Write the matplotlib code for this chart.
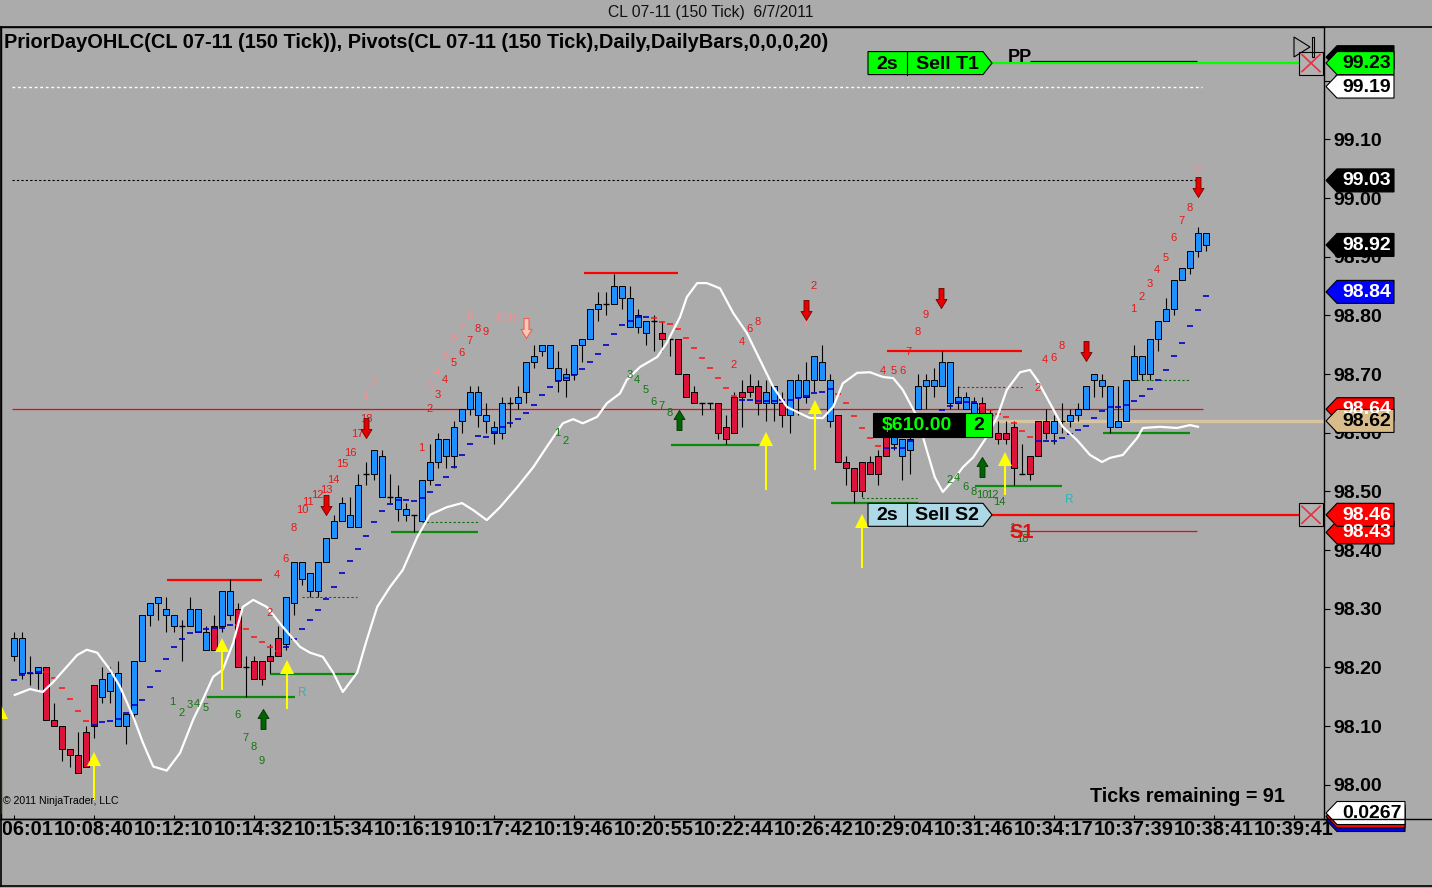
import numpy as np
import matplotlib
matplotlib.use("Agg")
import matplotlib.pyplot as plt
from matplotlib.patches import Polygon, Rectangle
from matplotlib.path import Path
from matplotlib.transforms import Bbox

plt.rcParams['font.family'] = ['Liberation Sans', 'DejaVu Sans']

# ---------------- data ----------------
opens = [98.22, 98.19, 98.19, 98.19, 98.20, 98.11, 98.10, 98.06, 98.05, 98.09,
         98.17, 98.15, 98.16, 98.10, 98.10, 98.12, 98.21, 98.29, 98.31, 98.29,
         98.27, 98.27, 98.27, 98.26, 98.23, 98.27, 98.27, 98.29, 98.30, 98.20,
         98.21, 98.21, 98.22, 98.25, 98.24, 98.31, 98.35, 98.33, 98.33, 98.38,
         98.42, 98.45, 98.44, 98.44, 98.53, 98.53, 98.49, 98.49, 98.47, 98.46,
         98.46, 98.45, 98.52, 98.55, 98.56, 98.56, 98.62, 98.64, 98.63, 98.62,
         98.60, 98.60, 98.65, 98.65, 98.67, 98.72, 98.74, 98.71, 98.69, 98.69,
         98.70, 98.75, 98.76, 98.81, 98.82, 98.82, 98.83, 98.78, 98.78, 98.77,
         98.79, 98.77, 98.76, 98.76, 98.70, 98.67, 98.65, 98.65, 98.65, 98.61,
         98.66, 98.67, 98.68, 98.68, 98.65, 98.65, 98.65, 98.63, 98.66, 98.66,
         98.69, 98.69, 98.62, 98.63, 98.55, 98.54, 98.55, 98.55, 98.56, 98.60,
         98.58, 98.56, 98.57, 98.64, 98.68, 98.68, 98.68, 98.65, 98.65, 98.64,
         98.63, 98.65, 98.63, 98.60, 98.60, 98.61, 98.53, 98.56, 98.62, 98.62,
         98.60, 98.62, 98.62, 98.63, 98.64, 98.69, 98.68, 98.61, 98.61, 98.62,
         98.69, 98.70, 98.70, 98.76, 98.79, 98.81, 98.86, 98.88, 98.91, 98.92]
closes = [98.25, 98.25, 98.19, 98.20, 98.11, 98.10, 98.06, 98.05, 98.02, 98.03,
          98.10, 98.18, 98.19, 98.19, 98.12, 98.21, 98.29, 98.31, 98.32, 98.30,
          98.29, 98.27, 98.30, 98.30, 98.26, 98.23, 98.33, 98.33, 98.20, 98.20,
          98.18, 98.18, 98.21, 98.22, 98.32, 98.38, 98.38, 98.36, 98.38, 98.42,
          98.45, 98.48, 98.46, 98.51, 98.53, 98.57, 98.56, 98.49, 98.49, 98.47,
          98.46, 98.52, 98.55, 98.59, 98.59, 98.61, 98.64, 98.67, 98.67, 98.63,
          98.61, 98.65, 98.65, 98.66, 98.72, 98.73, 98.75, 98.75, 98.71, 98.70,
          98.75, 98.76, 98.81, 98.82, 98.82, 98.85, 98.85, 98.83, 98.80, 98.79,
          98.79, 98.76, 98.76, 98.70, 98.66, 98.65, 98.65, 98.65, 98.60, 98.59,
          98.60, 98.66, 98.67, 98.65, 98.67, 98.68, 98.63, 98.69, 98.69, 98.69,
          98.73, 98.72, 98.69, 98.55, 98.54, 98.50, 98.50, 98.53, 98.53, 98.56,
          98.60, 98.59, 98.59, 98.68, 98.69, 98.69, 98.72, 98.72, 98.66, 98.66,
          98.65, 98.63, 98.63, 98.59, 98.59, 98.54, 98.53, 98.53, 98.56, 98.60,
          98.62, 98.62, 98.63, 98.64, 98.68, 98.70, 98.69, 98.68, 98.62, 98.69,
          98.73, 98.73, 98.76, 98.79, 98.81, 98.86, 98.88, 98.91, 98.94, 98.94]
highs = [98.26, 98.26, 98.22, 98.20, 98.20, 98.14, 98.10, 98.06, 98.09, 98.10,
         98.17, 98.20, 98.20, 98.21, 98.12, 98.21, 98.29, 98.31, 98.32, 98.32,
         98.29, 98.28, 98.32, 98.30, 98.27, 98.29, 98.33, 98.35, 98.31, 98.22,
         98.22, 98.21, 98.24, 98.27, 98.32, 98.38, 98.38, 98.36, 98.38, 98.42,
         98.46, 98.49, 98.49, 98.53, 98.55, 98.57, 98.57, 98.53, 98.51, 98.48,
         98.46, 98.52, 98.58, 98.60, 98.59, 98.62, 98.64, 98.68, 98.68, 98.65,
         98.62, 98.66, 98.66, 98.68, 98.72, 98.75, 98.75, 98.75, 98.74, 98.71,
         98.75, 98.76, 98.81, 98.84, 98.84, 98.87, 98.85, 98.85, 98.81, 98.79,
         98.80, 98.79, 98.76, 98.76, 98.70, 98.68, 98.65, 98.65, 98.65, 98.63,
         98.67, 98.69, 98.70, 98.69, 98.69, 98.68, 98.67, 98.69, 98.70, 98.72,
         98.73, 98.75, 98.70, 98.63, 98.56, 98.54, 98.55, 98.56, 98.57, 98.61,
         98.62, 98.59, 98.60, 98.70, 98.70, 98.71, 98.74, 98.72, 98.68, 98.67,
         98.66, 98.66, 98.64, 98.62, 98.62, 98.62, 98.58, 98.56, 98.62, 98.64,
         98.63, 98.65, 98.64, 98.65, 98.68, 98.70, 98.70, 98.68, 98.68, 98.69,
         98.75, 98.73, 98.76, 98.79, 98.83, 98.86, 98.88, 98.91, 98.95, 98.94]
lows = [98.21, 98.18, 98.17, 98.16, 98.11, 98.10, 98.04, 98.03, 98.02, 98.03,
        98.08, 98.14, 98.14, 98.10, 98.07, 98.11, 98.21, 98.27, 98.28, 98.26,
        98.26, 98.21, 98.27, 98.26, 98.23, 98.23, 98.26, 98.28, 98.20, 98.15,
        98.18, 98.17, 98.19, 98.22, 98.23, 98.29, 98.34, 98.32, 98.32, 98.38,
        98.42, 98.45, 98.44, 98.44, 98.51, 98.52, 98.49, 98.48, 98.45, 98.45,
        98.43, 98.45, 98.51, 98.54, 98.54, 98.54, 98.60, 98.63, 98.61, 98.60,
        98.58, 98.59, 98.61, 98.64, 98.65, 98.71, 98.73, 98.71, 98.67, 98.66,
        98.69, 98.72, 98.76, 98.79, 98.80, 98.82, 98.81, 98.78, 98.77, 98.75,
        98.74, 98.74, 98.73, 98.70, 98.66, 98.65, 98.63, 98.64, 98.59, 98.58,
        98.60, 98.61, 98.66, 98.63, 98.62, 98.62, 98.61, 98.60, 98.63, 98.65,
        98.67, 98.69, 98.61, 98.55, 98.51, 98.48, 98.49, 98.53, 98.51, 98.56,
        98.57, 98.52, 98.53, 98.64, 98.64, 98.66, 98.68, 98.64, 98.64, 98.64,
        98.62, 98.62, 98.61, 98.58, 98.58, 98.51, 98.53, 98.52, 98.56, 98.59,
        98.58, 98.60, 98.61, 98.62, 98.64, 98.66, 98.66, 98.60, 98.61, 98.62,
        98.69, 98.69, 98.69, 98.74, 98.79, 98.80, 98.86, 98.87, 98.90, 98.91]

# trailing stop dashes (1 = long / blue below, -1 = short / red above)
stop_vals = [98.178, 98.187, 98.190, 98.192,
             98.192, 98.182, 98.165, 98.146, 98.126, 98.109,
             98.102, 98.106, 98.109, 98.112, 98.122, 98.136, 98.144, 98.167, 98.194, 98.214,
             98.235, 98.248, 98.259, 98.260, 98.265, 98.267, 98.267, 98.272,
             98.272, 98.265, 98.252, 98.243, 98.235, 98.228,
             98.235, 98.248, 98.265, 98.281, 98.298, 98.316, 98.337, 98.361, 98.381, 98.402,
             98.424, 98.448, 98.467, 98.479, 98.486, 98.486, 98.484, 98.489, 98.499, 98.511,
             98.524, 98.541, 98.562, 98.581, 98.594, 98.593, 98.601, 98.610, 98.617, 98.623,
             98.634, 98.647, 98.664, 98.678, 98.688, 98.693, 98.698, 98.709, 98.721, 98.734,
             98.750, 98.768, 98.784, 98.791, 98.797, 98.797,
             98.796, 98.789, 98.785, 98.777, 98.761, 98.744, 98.727, 98.710, 98.693, 98.676, 98.662,
             98.655, 98.655, 98.654, 98.654, 98.654, 98.655, 98.655, 98.659, 98.662, 98.667, 98.669, 98.674,
             98.666, 98.651, 98.628, 98.608, 98.591, 98.577,
             98.574, 98.574, 98.574, 98.586, 98.613, 98.621, 98.630, 98.639, 98.645, 98.652, 98.652, 98.652,
             98.645, 98.639, 98.632, 98.627, 98.617, 98.603, 98.593,
             98.586, 98.586, 98.586, 98.591, 98.598, 98.605, 98.612, 98.625, 98.637, 98.644, 98.644,
             98.647, 98.654, 98.662, 98.674, 98.689, 98.707, 98.731, 98.753, 98.782, 98.809, 98.833]
stop_side = ([1] * 4 + [-1] * 6 + [1] * 18 + [-1] * 6 + [1] * 46 + [-1] * 11 +
             [1] * 12 + [-1] * 6 + [1] * 12 + [-1] * 7 + [1] * 22)

# white oscillator line (bar position, price)
white_k = [0.1, 2.0, 3.6, 4.9, 6.6, 7.9, 9.1, 10.4, 12.0, 13.25,
           14.9, 16.1, 17.4, 19.1, 20.75, 22.4, 23.6, 24.9, 26.1, 27.4,
           28.6, 29.9, 31.6, 33.6, 35.75, 37.0, 38.6, 39.9, 41.1, 42.9,
           44.1, 45.4, 47.0, 48.6, 50.4, 52.0, 54.1, 56.0, 57.4, 59.1,
           60.75, 62.9, 64.9, 66.6, 68.6, 69.9, 71.1, 72.9, 74.1, 75.75,
           76.6, 78.25, 80.4, 81.6, 83.25, 84.1, 85.4, 86.6, 88.25, 89.9,
           91.6, 93.25, 94.9, 96.6, 98.25, 99.5, 101.1, 102.4, 103.6, 105.4,
           107.0, 108.6, 109.9, 111.1, 112.9, 114.1, 115.1, 116.1, 117.4, 118.6,
           119.9, 121.6, 122.9, 124.1, 125.75, 127.0, 127.9, 129.5, 131.1, 132.9,
           134.5, 136.0, 137.0, 138.6, 140.4, 141.1, 143.25, 145.4, 147.0, 148.0]
white_p = [98.153, 98.163, 98.158, 98.175, 98.201, 98.221, 98.230, 98.225, 98.196, 98.167,
           98.116, 98.072, 98.031, 98.024, 98.054, 98.111, 98.145, 98.184, 98.196, 98.242,
           98.303, 98.315, 98.303, 98.269, 98.235, 98.225, 98.218, 98.191, 98.158, 98.191,
           98.247, 98.303, 98.337, 98.366, 98.422, 98.460, 98.473, 98.480, 98.468, 98.451,
           98.473, 98.507, 98.541, 98.576, 98.616, 98.623, 98.616, 98.627, 98.650, 98.667,
           98.690, 98.712, 98.729, 98.753, 98.797, 98.831, 98.855, 98.855, 98.846, 98.804,
           98.770, 98.724, 98.678, 98.644, 98.633, 98.625, 98.625, 98.644, 98.684, 98.702,
           98.703, 98.695, 98.693, 98.673, 98.627, 98.570, 98.524, 98.499, 98.519, 98.541,
           98.558, 98.593, 98.627, 98.673, 98.703, 98.707, 98.690, 98.650, 98.610, 98.587,
           98.562, 98.550, 98.557, 98.562, 98.591, 98.608, 98.610, 98.608, 98.613, 98.610]

# swing high (red) / low (green) segments: start bar, end bar, price
high_seg = [(19.1, 31.0, 98.349), (71.25, 83.0, 98.872), (109.1, 126.0, 98.739)]
low_seg = [(24.1, 35.1, 98.149), (32.0, 42.9, 98.189), (47.1, 58.0, 98.430),
           (82.1, 93.25, 98.579), (102.1, 113.0, 98.480), (120.1, 131.0, 98.509),
           (136.1, 147.0, 98.600)]
low_dash_seg = [(36.0, 42.9, 98.320), (51.0, 58.0, 98.448), (106.0, 112.9, 98.489),
                (139.9, 147.0, 98.690)]
high_dash_seg = [(118.0, 126.0, 98.678)]

# prior-day / pivot levels
prior_high = 99.19
prior_close = 99.03
prior_mid = 98.64
pp_level = 99.234
s1_level = 98.432
t1_level = 99.23
s2_level = 98.46
entry_level = 98.62

# signal arrows
yel_k = [-1.6, 10, 26, 34.1, 94, 100.1, 106, 123.9]
yel_tip = [98.136, 98.056, 98.250, 98.212, 98.601, 98.655, 98.461, 98.567]
yel_tail = [97.950, 97.974, 98.161, 98.129, 98.502, 98.536, 98.369, 98.494]
gup_k = [31.1, 83.1, 121.0]
gup_p = [98.112, 98.622, 98.541]
rdn_k = [39.0, 44.0, 99.0, 115.9, 134.0, 148.0]
rdn_p = [98.477, 98.608, 98.809, 98.830, 98.739, 99.019]
sdn_k = [64.0]
sdn_p = [98.779]

# count labels
red_k = [31.9, 32.9, 33.9, 34.9, 36.0, 36.75, 37.9, 39.0, 39.9, 41.0, 42.0, 42.9, 44.0,
         50.9, 52.0, 52.9, 53.9, 54.9, 55.9, 56.9, 57.9, 58.9,
         89.9, 91.0, 91.9, 92.9, 99.9,
         108.6, 109.9, 111.1, 111.75, 112.9, 113.9,
         127.9, 128.9, 129.9, 130.9,
         139.9, 141.0, 141.9, 142.9, 143.9, 144.9, 145.9, 146.9]
red_p = [98.293, 98.358, 98.385, 98.438, 98.469, 98.481, 98.494, 98.503, 98.520, 98.547, 98.566, 98.598, 98.624,
         98.574, 98.641, 98.665, 98.690, 98.719, 98.735, 98.757, 98.776, 98.772,
         98.716, 98.755, 98.777, 98.789, 98.850,
         98.705, 98.705, 98.705, 98.738, 98.772, 98.801,
         98.677, 98.724, 98.728, 98.748,
         98.810, 98.832, 98.854, 98.878, 98.898, 98.931, 98.961, 98.983]
red_t = ['2', '4', '6', '8', '10', '11', '12', '13', '14', '15', '16', '17', '18',
         '1', '2', '3', '4', '5', '6', '7', '8', '9',
         '2', '4', '6', '8', '2',
         '4', '5', '6', '7', '8', '9',
         '2', '4', '6', '8',
         '1', '2', '3', '4', '5', '6', '7', '8']
pink_k = [43.9, 44.9, 52.0, 52.9, 53.9, 54.9, 55.9, 56.9, 60.75, 62.25, 98.9, 147.9]
pink_p = [98.660, 98.684, 98.678, 98.704, 98.730, 98.762, 98.777, 98.798, 98.793, 98.793, 98.787, 99.048]
pink_t = ['1', '2', '3', '4', '5', '6', '7', '8', '10', '11', '1', '9']
green_k = [19.75, 20.9, 22.0, 22.9, 24.0, 27.9, 28.9, 29.9, 30.9,
           67.9, 68.9,
           76.9, 77.9, 78.9, 79.9, 80.9, 81.9,
           117.0, 117.9, 118.9, 119.9, 121.0, 122.25, 123.1,
           124.75, 126.0]
green_p = [98.141, 98.123, 98.136, 98.138, 98.130, 98.119, 98.080, 98.065, 98.041,
           98.600, 98.586,
           98.699, 98.690, 98.672, 98.653, 98.646, 98.634,
           98.520, 98.523, 98.508, 98.499, 98.494, 98.494, 98.482,
           98.438, 98.419]
green_t = ['1', '2', '3', '4', '5', '6', '7', '8', '9',
           '1', '2',
           '3', '4', '5', '6', '7', '8',
           '2', '4', '6', '8', '10', '12', '14',
           '1', '18']
rmark_k = [36.0, 131.9]
rmark_p = [98.156, 98.485]

ytick_vals = [98.00, 98.10, 98.20, 98.30, 98.40, 98.50, 98.60, 98.70, 98.80, 98.90, 99.00, 99.10, 99.20]
xtick_pos = [0, 10, 20, 30, 40, 50, 60, 70, 80, 90, 100, 110, 120, 130, 140, 150, 160]
xtick_lab = ['10:06:01', '10:08:40', '10:12:10', '10:14:32', '10:15:34', '10:16:19', '10:17:42',
             '10:19:46', '10:20:55', '10:22:44', '10:26:42', '10:29:04', '10:31:46', '10:34:17',
             '10:37:39', '10:38:41', '10:39:41']

# right-axis price tags: price, face, text colour, shown text
tags = [(99.24, 'black', 'white', ''), (99.23, '#00FF00', 'black', '99.23'), (99.19, 'white', 'black', '99.19'),
        (99.03, 'black', 'white', '99.03'), (98.92, 'black', 'white', '98.92'), (98.84, '#0000FF', 'white', '98.84'),
        (98.64, '#FF0000', 'white', '98.64'), (98.62, '#D8BC8C', 'black', '98.62'),
        (98.43, '#FF0000', 'white', '98.43'), (98.46, '#FF0000', 'white', '98.46')]

# ---------------- figure ----------------
FIG_W, FIG_H = 1432, 888
BG = '#ABABAB'
fig = plt.figure(figsize=(FIG_W / 100, FIG_H / 100), dpi=100, facecolor=BG)
AX_L, AX_R, AX_T, AX_B = 1, 1324, 27, 819
ax = fig.add_axes([AX_L / FIG_W, 1 - AX_B / FIG_H, (AX_R - AX_L) / FIG_W, (AX_B - AX_T) / FIG_H])
ax.set_facecolor(BG)
ax.set_xlim(-1.625, 163.75)
ax.set_ylim(97.9415, 99.2915)
for s in ax.spines.values():
    s.set_color('black')
    s.set_linewidth(1.0)

PPX = (99.2915 - 97.9415) / (AX_B - AX_T)  # price per pixel

k = np.arange(len(opens))
o = np.array(opens); c = np.array(closes); h = np.array(highs); l = np.array(lows)

# reference lines
ax.hlines(prior_high, -0.25, 148.5, colors='white', lw=1, linestyles=(0, (2, 2)), zorder=1)
ax.hlines(prior_close, -0.25, 148.3, colors='black', lw=0.8, linestyles=(0, (2, 2)), zorder=1)
ax.hlines(prior_mid, -0.25, 148.6, colors='#FF0000', lw=0.9, zorder=1)
ax.hlines(pp_level, 127.0, 147.9, colors='black', lw=0.9, zorder=1)
ax.hlines(s1_level, 124.5, 147.9, colors='#FF0000', lw=0.9, zorder=1)
ax.hlines(t1_level, 122.25, 160.6, colors='#00FF00', lw=1.6, zorder=1)
ax.hlines(s2_level, 122.25, 160.6, colors='#FF0000', lw=1.6, zorder=1)
ax.hlines(entry_level, 122.25, 163.75, colors='#D8C4A0', lw=2.4, zorder=1)

for a, b, p in high_seg:
    ax.hlines(p, a, b, colors='#FF0000', lw=1.6, zorder=2)
for a, b, p in low_seg:
    ax.hlines(p, a, b, colors='#0A8A0A', lw=1.6, zorder=2)
for a, b, p in low_dash_seg:
    ax.hlines(p, a, b, colors='#0A6A0A', lw=0.8, linestyles=(0, (2, 2)), zorder=2)
for a, b, p in high_dash_seg:
    ax.hlines(p, a, b, colors='#E00000', lw=0.8, linestyles=(0, (2, 2)), zorder=2)

# candles
ax.vlines(k, l, h, colors='black', lw=0.8, zorder=3)
body = c != o
up = (c > o)
dn = (c < o)
ax.bar(k[up], (c - o)[up], bottom=o[up], width=0.64, color='#1E90FF', edgecolor='black', lw=0.7, zorder=4)
ax.bar(k[dn], (o - c)[dn], bottom=c[dn], width=0.64, color='#DC143C', edgecolor='black', lw=0.7, zorder=4)
dj = ~body
ax.hlines(c[dj], k[dj] - 0.4, k[dj] + 0.4, colors='black', lw=1.0, zorder=4)

# trailing stop dashes
sv = np.array(stop_vals); sd = np.array(stop_side)
ax.hlines(sv[sd > 0], k[sd > 0] - 0.42, k[sd > 0] + 0.42, colors='#0000CC', lw=1.2, zorder=5)
ax.hlines(sv[sd < 0], k[sd < 0] - 0.42, k[sd < 0] + 0.42, colors='#FF1A1A', lw=1.2, zorder=5)

# white oscillator
ax.plot(white_k, white_p, color='white', lw=1.6, zorder=5, solid_joinstyle='round')

# arrows
dn_path = Path([(-2.5, 10), (2.5, 10), (2.5, -1), (5.5, -1), (0, -10), (-5.5, -1), (-2.5, -1), (-2.5, 10)],
               [Path.MOVETO] + [Path.LINETO] * 6 + [Path.CLOSEPOLY])
up_path = Path([(-2.5, -10), (2.5, -10), (2.5, 1), (5.5, 1), (0, 10), (-5.5, 1), (-2.5, 1), (-2.5, -10)],
               [Path.MOVETO] + [Path.LINETO] * 6 + [Path.CLOSEPOLY])
MS = 20 * 0.72
ax.plot(rdn_k, rdn_p, ls='none', marker=dn_path, ms=MS, mfc='#E80000', mec='#700000', mew=0.6, zorder=7)
ax.plot(sdn_k, sdn_p, ls='none', marker=dn_path, ms=MS, mfc='#F8C8B8', mec='#F06050', mew=0.8, zorder=7)
ax.plot(gup_k, gup_p, ls='none', marker=up_path, ms=MS, mfc='#006400', mec='#003000', mew=0.6, zorder=7)
for xk, tp, tl in zip(yel_k, yel_tip, yel_tail):
    head_c = tp - 7 * PPX
    ax.vlines(xk, tl, head_c, colors='#FFFF00', lw=1.5, zorder=7)
    ax.plot([xk], [head_c], ls='none', marker='^', ms=10.5, mfc='#FFFF00', mec='#FFFF00', mew=0, zorder=7)

# count labels
for xk, p, t in zip(red_k, red_p, red_t):
    ax.text(xk, p, t, color='#E81818', fontsize=8, ha='center', va='center', zorder=6)
for xk, p, t in zip(pink_k, pink_p, pink_t):
    ax.text(xk, p, t, color='#F49090', fontsize=8, ha='center', va='center', zorder=6)
for xk, p, t in zip(green_k, green_p, green_t):
    ax.text(xk, p, t, color='#117711', fontsize=8, ha='center', va='center', zorder=6)
for xk, p in zip(rmark_k, rmark_p):
    ax.text(xk, p, 'R', color='#3AB0B0', fontsize=8.5, ha='center', va='center', zorder=6)

# axes ticks
ax.yaxis.tick_right()
ax.set_yticks(ytick_vals)
ax.set_yticklabels(['%.2f' % v for v in ytick_vals], fontsize=14, fontweight='bold')
ax.tick_params(axis='y', direction='out', length=4.3, width=0.8, pad=2.6, colors='black')
ax.set_xticks(xtick_pos)
ax.set_xticklabels(xtick_lab, fontsize=14.4, fontweight='bold')
ax.tick_params(axis='x', direction='in', length=3, width=0.8, pad=0.5, colors='black')
first = ax.xaxis.get_major_ticks()[0].label1
first.set_clip_on(True)
first.set_clip_box(Bbox.from_extents(3, 0, FIG_W, FIG_H))

# ---------------- overlay widgets (pixel space) ----------------
ov = fig.add_axes([0, 0, 1, 1], zorder=10)
ov.set_xlim(0, FIG_W)
ov.set_ylim(FIG_H, 0)
ov.axis('off')
ov.patch.set_alpha(0)


def py(price):
    return FIG_H - ax.transData.transform((0, price))[1]


# frame lines
ov.plot([0, FIG_W], [AX_T, AX_T], color='black', lw=1.2)
ov.plot([AX_L, FIG_W], [AX_B, AX_B], color='black', lw=1.0)
ov.plot([1, 1], [AX_T, 886], color='black', lw=1.2)
ov.plot([1, FIG_W], [886, 886], color='black', lw=1.2)

# title and header
ov.text(711, 13, 'CL 07-11 (150 Tick)  6/7/2011', fontsize=11.3, ha='center', va='center', color='#111111')
ov.text(4, 43, 'PriorDayOHLC(CL 07-11 (150 Tick)), Pivots(CL 07-11 (150 Tick),Daily,DailyBars,0,0,0,20)',
        fontsize=14.4, fontweight='bold', ha='left', va='center', color='black')
ov.text(3, 801, '\u00a9 2011 NinjaTrader, LLC', fontsize=7.6, ha='left', va='center', color='black')
ov.text(1090, 796, 'Ticks remaining = 91', fontsize=14.2, fontweight='bold', ha='left', va='center', color='black')

# price tags
def tag(cy, face, tcol, text, right=1394):
    hh = 11.5
    ov.add_patch(Polygon([(1326, cy), (1337, cy - hh), (right, cy - hh), (right, cy + hh), (1337, cy + hh)],
                         closed=True, fc=face, ec='black', lw=0.8))
    if text:
        ov.text((1337 + right) / 2 + 1, cy + 0.5, text, fontsize=14, fontweight='bold', color=tcol,
                ha='center', va='center')


for p, face, tcol, txt in tags:
    tag(py(p), face, tcol, txt)
tag(820, '#0000FF', 'white', '', right=1405)
tag(816.5, '#FF0000', 'white', '', right=1405)
tag(813, 'white', 'black', '0.0267', right=1405)

# order boxes
def order_box(cy, face, left_txt, right_txt):
    x0, x1, tip, div, hh = 868, 983, 992, 907, 11.5
    ov.add_patch(Polygon([(x0, cy - hh), (x1, cy - hh), (tip, cy), (x1, cy + hh), (x0, cy + hh)],
                         closed=True, fc=face, ec='black', lw=0.8))
    ov.plot([div, div], [cy - hh, cy + hh], color='black', lw=0.8)
    ov.text((x0 + div) / 2, cy + 1, left_txt, fontsize=14, fontweight='bold', ha='center', va='center')
    ov.text((div + x1) / 2 + 2, cy + 1, right_txt, fontsize=14, fontweight='bold', ha='center', va='center')


order_box(py(t1_level), '#00FF00', '2s', 'Sell T1')
order_box(py(s2_level), '#ADD8E6', '2s', 'Sell S2')

# position box
cy = py(entry_level) + 4
ov.add_patch(Rectangle((873, cy - 12), 92, 24, fc='black', ec='black', lw=0.8))
ov.add_patch(Rectangle((965, cy - 12), 27, 24, fc='#00FF00', ec='black', lw=0.8))
ov.text(917, cy + 1, '$610.00', fontsize=14, fontweight='bold', color='#00FF00', ha='center', va='center')
ov.text(978.5, cy + 1, '2', fontsize=14, fontweight='bold', color='black', ha='center', va='center')

# close-order X boxes
for lev in (t1_level, s2_level):
    yy = py(lev)
    ov.add_patch(Rectangle((1299, yy - 11.5), 24, 23, fc='#B2B2B2', ec='black', lw=0.8))
    ov.plot([1302, 1320], [yy - 8.5, yy + 8.5], color='#E83040', lw=1.2)
    ov.plot([1302, 1320], [yy + 8.5, yy - 8.5], color='#E83040', lw=1.2)

# play / end icon
ov.add_patch(Polygon([(1294, 37), (1294, 57), (1310, 47)], closed=True, fc='none', ec='black', lw=0.8))
ov.add_patch(Rectangle((1311.5, 37), 2.5, 20, fc='none', ec='black', lw=0.8))

# PP and S1 labels
ov.text(1008, py(pp_level) - 3, 'PP', fontsize=13, fontweight='bold', color='black', ha='left', va='center')
ov.text(1009, py(s1_level) + 1, 'S1', fontsize=14.5, fontweight='bold', color='#E01010', ha='left', va='center')

fig.savefig('out.png', dpi=100, facecolor=BG)
